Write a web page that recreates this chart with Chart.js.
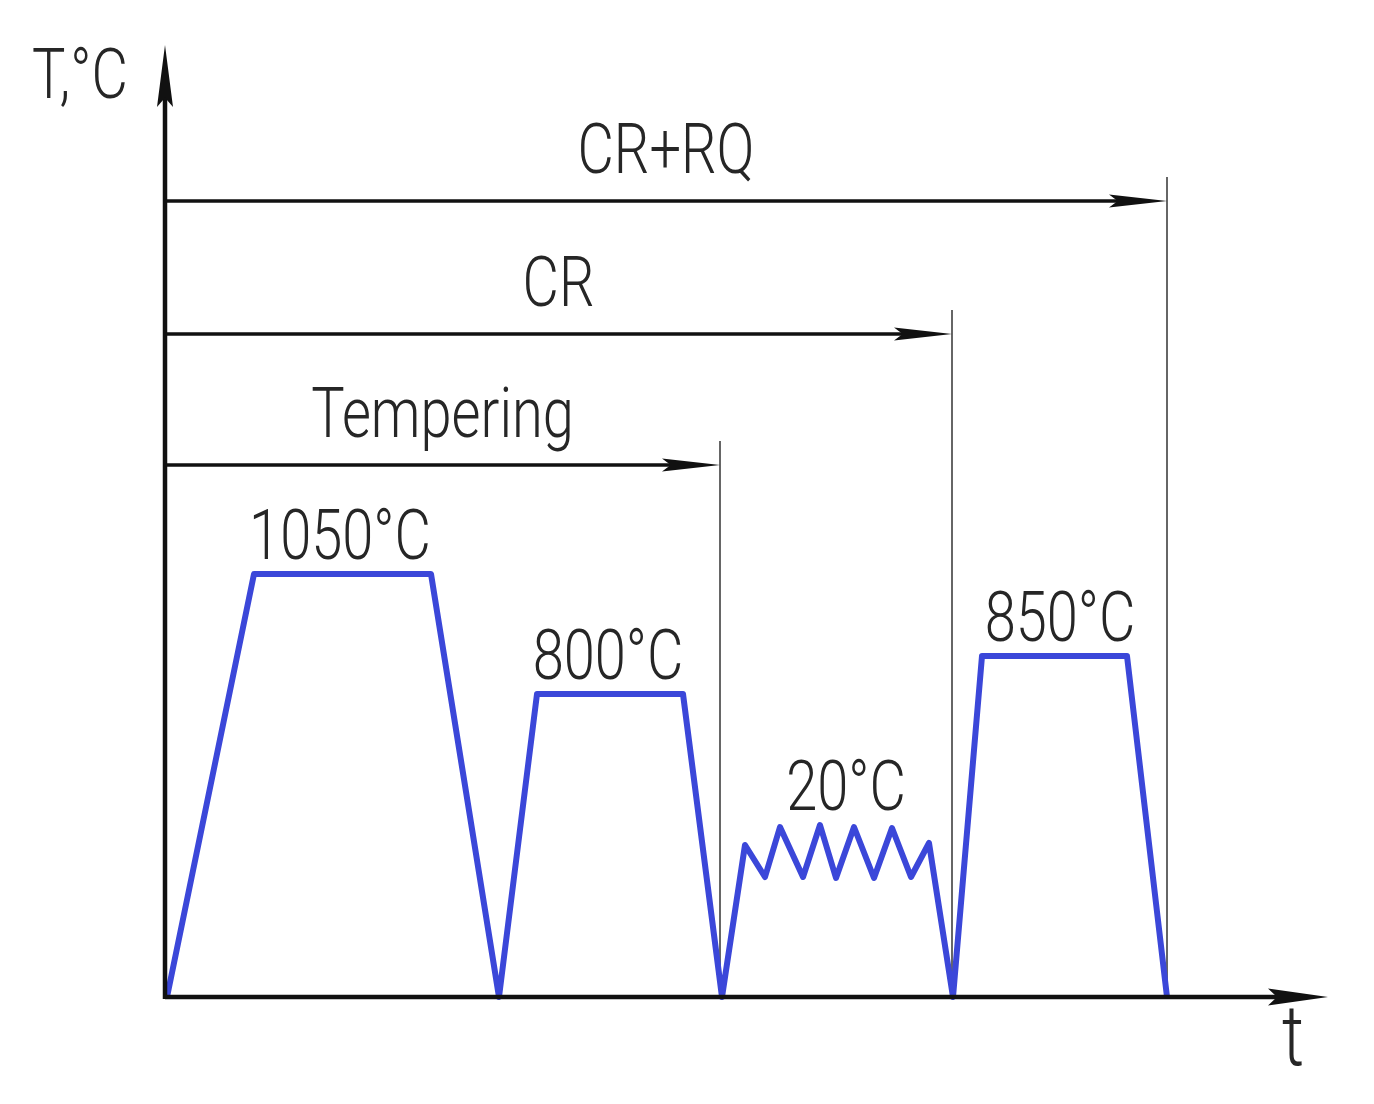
<!DOCTYPE html>
<html>
<head>
<meta charset="utf-8">
<script src="https://cdn.jsdelivr.net/npm/chart.js@4.4.1/dist/chart.umd.min.js"></script>
<style>
    html, body { margin: 0; padding: 0; background: #fff; }
    #wrap { width: 1374px; height: 1104px; }
</style>
</head>
<body>
<div id="wrap"><canvas id="chart"></canvas></div>
<script>
// schematic units: time along x, relative temperature level along y
const profileTime = [0.2, 8.9, 26.6, 33.4, 37.2, 51.8, 55.7, 58.0, 60.0, 61.5, 63.8, 65.5, 67.1, 68.9, 70.9, 72.7, 74.6, 76.4, 78.8, 81.7, 96.2, 100.2];
const profileTemp = [0, 42.3, 42.3, 0, 30.3, 30.3, 0, 15.2, 12.0, 17.0, 12.0, 17.2, 11.9, 17.0, 11.9, 16.9, 12.0, 15.4, 0, 34.1, 34.1, 0];

const stageLabels = ["1050°C", "800°C", "20°C", "850°C"];
const stageLabelTime = [17.5, 44.3, 68.1, 89.5];
const stageLabelTemp = [42.3, 30.3, 17.2, 34.1];

const processNames = ["CR+RQ", "CR", "Tempering"];
const processEnd = [100.2, 78.7, 55.5];
const processLevel = [79.6, 66.3, 53.2];

const axisTitleY = "T,°C";
const axisTitleX = "t";

const FONT = "300 70px Roboto, 'Liberation Sans', sans-serif";
const SQUEEZE = 0.8;   // the drawing uses a narrow drafting font
const INK = "#262626";

function narrowText(ctx, text, x, y) {
    ctx.save();
    ctx.translate(x, y);
    ctx.scale(SQUEEZE, 1);
    ctx.fillText(text, 0, 0);
    ctx.restore();
}

function arrowHead(ctx, x, y, dir, len, half) {
    ctx.beginPath();
    if (dir === "right") {
        ctx.moveTo(x, y);
        ctx.lineTo(x - len, y - half);
        ctx.lineTo(x - len * 0.85, y);
        ctx.lineTo(x - len, y + half);
    } else {
        ctx.moveTo(x, y);
        ctx.lineTo(x - half, y + len);
        ctx.lineTo(x, y + len * 0.85);
        ctx.lineTo(x + half, y + len);
    }
    ctx.closePath();
    ctx.fill();
}

const schemePlugin = {
    id: "scheme",
    beforeDatasetsDraw(chart) {
        const ctx = chart.ctx;
        const xs = chart.scales.x, ys = chart.scales.y;
        const y0 = ys.getPixelForValue(0);
        ctx.save();
        // thin guide lines at the end of each process
        ctx.strokeStyle = "#666";
        ctx.lineWidth = 2;
        processEnd.forEach((t, i) => {
            const px = xs.getPixelForValue(t);
            ctx.beginPath();
            ctx.moveTo(px, ys.getPixelForValue(processLevel[i]) - 24);
            ctx.lineTo(px, y0);
            ctx.stroke();
        });
        ctx.restore();
    },
    afterDatasetsDraw(chart) {
        const ctx = chart.ctx;
        const area = chart.chartArea;
        const xs = chart.scales.x, ys = chart.scales.y;
        const x0 = xs.getPixelForValue(0);
        const y0 = ys.getPixelForValue(0);
        ctx.save();
        ctx.strokeStyle = "#111";
        ctx.fillStyle = "#111";
        ctx.lineCap = "butt";

        // axes
        ctx.lineWidth = 4.5;
        ctx.beginPath();
        ctx.moveTo(x0, y0);
        ctx.lineTo(area.right - 40, y0);
        ctx.moveTo(x0, y0 + 2);
        ctx.lineTo(x0, area.top + 40);
        ctx.stroke();
        arrowHead(ctx, area.right, y0, "right", 60, 8.5);
        arrowHead(ctx, x0, area.top, "up", 62, 8);

        // process arrows
        ctx.lineWidth = 3.5;
        processEnd.forEach((t, i) => {
            const py = ys.getPixelForValue(processLevel[i]);
            const px = xs.getPixelForValue(t);
            ctx.beginPath();
            ctx.moveTo(x0, py);
            ctx.lineTo(px - 40, py);
            ctx.stroke();
            arrowHead(ctx, px, py, "right", 58, 6.5);
        });

        // texts
        ctx.font = FONT;
        ctx.fillStyle = INK;
        ctx.textAlign = "center";
        ctx.textBaseline = "alphabetic";
        processNames.forEach((name, i) => {
            const py = ys.getPixelForValue(processLevel[i]);
            const mid = (x0 + xs.getPixelForValue(processEnd[i])) / 2;
            narrowText(ctx, name, mid, py - 28);
        });
        stageLabels.forEach((lab, i) => {
            narrowText(ctx, lab, xs.getPixelForValue(stageLabelTime[i]), ys.getPixelForValue(stageLabelTemp[i]) - 15);
        });
        narrowText(ctx, axisTitleY, 80, 98);
        ctx.font = "300 86px Roboto, 'Liberation Sans', sans-serif";
        narrowText(ctx, axisTitleX, area.right - 35, y0 + 68);
        ctx.restore();
    }
};

const points = profileTime.map((t, i) => ({ x: t, y: profileTemp[i] }));

new Chart(document.getElementById("chart"), {
    type: "scatter",
    data: {
        datasets: [{
            data: points,
            showLine: true,
            borderColor: "#3b47d9",
            borderWidth: 6,
            borderJoinStyle: "round",
            pointRadius: 0,
            fill: false,
            tension: 0,
            clip: false
        }]
    },
    options: {
        responsive: true,
        maintainAspectRatio: false,
        animation: false,
        events: [],
        layout: { padding: { left: 165, right: 46, top: 45, bottom: 107 } },
        plugins: {
            legend: { display: false },
            tooltip: { enabled: false }
        },
        scales: {
            x: { type: "linear", min: 0, max: 116.3, display: false },
            y: { type: "linear", min: 0, max: 95.2, display: false }
        }
    },
    plugins: [schemePlugin]
});
</script>
</body>
</html>
